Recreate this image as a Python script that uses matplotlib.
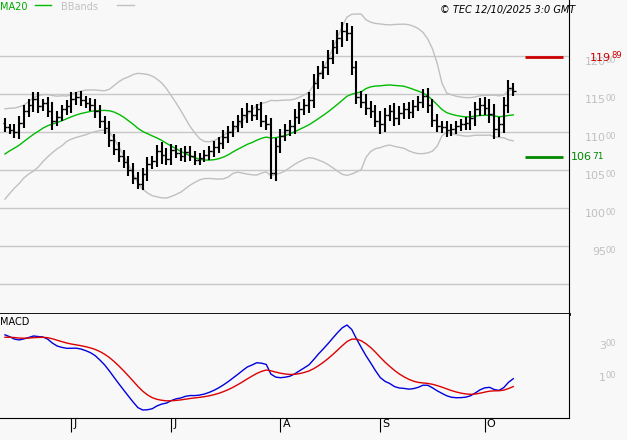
import matplotlib
matplotlib.use("Agg")
import matplotlib.pyplot as plt
import matplotlib.transforms as mt
import numpy as np
import pandas as pd

prehist = [97.0,97.5,96.8,97.8,98.5,99.0,98.6,99.8,100.5,101.2,100.8,102.0,102.8,103.5,103.0,
           104.2,105.0,105.6,105.2,106.5,107.2,107.8,108.5,108.0,109.2,109.8,110.5,111.0,110.6,111.2]
closes = [110.6,110.3,110.0,111.2,112.8,113.6,114.3,113.4,113.8,112.8,111.5,112.0,113.0,113.4,114.3,114.6,114.2,113.8,113.5,112.7,
          111.4,110.5,109.0,107.8,106.9,106.0,105.0,104.0,103.2,
          104.5,105.8,106.2,107.5,107.0,106.5,107.6,107.3,106.8,107.4,106.9,106.3,106.6,
          107.0,107.5,108.0,108.6,109.3,110.0,110.8,111.4,112.2,112.8,112.3,113.0,111.5,111.0,
          104.6,108.2,109.5,110.3,
          110.8,112.0,113.0,113.5,114.2,116.5,117.8,118.5,119.8,121.2,122.4,123.3,123.0,
          118.5,114.6,114.0,113.2,112.8,111.5,111.0,
          112.2,112.8,111.8,112.5,113.0,112.6,113.4,114.0,114.8,
          113.5,111.6,110.8,110.6,110.2,110.4,110.8,111.0,111.2,111.8,113.0,
          113.6,113.2,112.4,110.4,111.0,113.5,115.8,115.4]
spread = [0.6,0.5,0.8,0.9,0.7,0.8,1.0,0.9,0.6,0.8,1.2,0.7,0.6,0.8,0.9,0.7,0.8,0.6,0.7,0.8,
          0.9,0.7,1.0,0.8,0.9,0.7,0.8,0.9,0.7,
          0.8,0.9,0.7,0.8,1.2,0.9,0.8,0.7,0.6,0.8,0.7,0.6,0.7,
          0.6,0.7,0.8,0.7,0.9,0.8,0.7,0.8,0.9,1.0,0.8,0.7,0.9,0.8,
          0.8,1.0,0.9,0.7,
          0.8,1.0,0.9,0.8,1.0,1.1,0.9,0.8,1.0,0.9,1.0,1.2,1.0,
          1.0,0.9,0.8,1.0,0.9,0.8,1.2,
          1.0,0.8,1.0,0.9,0.8,0.9,0.8,0.7,0.9,
          1.0,0.9,0.8,0.7,0.8,0.7,0.6,0.7,0.8,0.9,1.0,
          0.9,1.0,1.2,1.3,1.0,1.1,1.0,0.6]
dates = pd.bdate_range("2025-05-13", periods=len(closes))
month_labels = ["J", "J", "A", "S", "O"]
price_levels = [95, 100, 105, 110, 115, 120]
macd_labels = ["300", "100"]
support, resistance = 106.71, 119.89

allc = pd.Series(prehist + closes)
ma = allc.rolling(20).mean()
sd = allc.rolling(20).std(ddof=0)
up, lo = ma + 2*sd, ma - 2*sd
ema12 = allc.ewm(span=12, adjust=False).mean()
ema26 = allc.ewm(span=26, adjust=False).mean()
macd = (ema12 - ema26)
sig = macd.ewm(span=9, adjust=False).mean()
n0 = len(prehist)
x = np.arange(len(closes))
opens = [prehist[-1]] + closes[:-1]
highs = [max(o, c) + s for o, c, s in zip(opens, closes, spread)]
lows = [min(o, c) - s for o, c, s in zip(opens, closes, spread)]

W, H = 627, 440
fig = plt.figure(figsize=(W/100, H/100), dpi=100, facecolor="#f8f8f8")
ax = fig.add_axes([0, 1-314/H, 569/W, 314/H], facecolor="#f8f8f8")
ax2 = fig.add_axes([0, 1-418/H, 569/W, 104/H], facecolor="#f8f8f8")
xl = (-1.05, 569/4.75 - 1.05)

for a in (ax, ax2):
    a.set_xlim(*xl)
    for s in ("left", "top"):
        a.spines[s].set_visible(False)
    a.spines["right"].set_color("black")
    a.tick_params(left=False, labelleft=False)

def px(p):
    return p / 569

ax.set_ylim(115 - (314-94)/7.6, 115 + 94/7.6)
for v in [90] + price_levels:
    ax.axhline(v, color="#c8c8c8", lw=1, zorder=0)
for v in price_levels:
    ax.text(px(606), v - 0.8, f"{v}", transform=ax.get_yaxis_transform(), color="#c0c0c0",
            fontsize=8, ha="right", va="center", clip_on=False)
    ax.text(px(606), v - 0.6, "00", transform=ax.get_yaxis_transform(), color="#c0c0c0",
            fontsize=6, ha="left", va="center", clip_on=False)
ax.spines["bottom"].set_linewidth(2)
ax.tick_params(bottom=False, labelbottom=False)

ax.plot(x, up.iloc[n0:], color="#c0c0c0", lw=1)
ax.plot(x, lo.iloc[n0:], color="#c0c0c0", lw=1)
ax.plot(x, ma.iloc[n0:], color="#00bb00", lw=1)
ax.vlines(x, lows, highs, color="black", lw=1.5)
ax.hlines(opens, x-0.5, x, color="black", lw=1)
ax.hlines(closes, x, x+0.5, color="black", lw=1)

ax.hlines([resistance], 109.5, 117.5, color="#cc0000", lw=2)
ax.hlines([support], 109.5, 117.5, color="#008800", lw=2)
ax.text(px(611), resistance - 0.1, "119", transform=ax.get_yaxis_transform(), color="#cc0000", fontsize=8,
        ha="right", va="center", clip_on=False)
ax.text(px(611), resistance + 0.2, "89", transform=ax.get_yaxis_transform(), color="#cc0000", fontsize=6,
        ha="left", va="center", clip_on=False)
ax.text(px(571), support, "106", transform=ax.get_yaxis_transform(), color="#008800", fontsize=8,
        ha="left", va="center", clip_on=False)
ax.text(px(592), support + 0.1, "71", transform=ax.get_yaxis_transform(), color="#008800", fontsize=6.5,
        ha="left", va="center", clip_on=False)

ax.text(0.0, 0.995, "MA20", transform=ax.transAxes, color="#00aa00", fontsize=7, va="top")
ax.plot([0.062, 0.09], [0.983, 0.983], transform=ax.transAxes, color="#00bb00", lw=1)
ax.text(0.108, 0.995, "BBands", transform=ax.transAxes, color="#c0c0c0", fontsize=7, va="top")
ax.plot([0.205, 0.235], [0.983, 0.983], transform=ax.transAxes, color="#c0c0c0", lw=1)
fig.text(575/W, 1-5/H, "© TEC 12/10/2025 3:0 GMT", fontsize=7, style="italic", ha="right", va="top")

mv = macd.iloc[n0:]
sv = sig.iloc[n0:]
hi = max(mv.max(), sv.max())
lo_ = min(mv.min(), sv.min())
k = (hi - lo_) / (410 - 325)
ax2.set_ylim(lo_ - (418-410)*k, hi + (325-314)*k)
ax2.axhline(lo_ - (418-387)*k, color="#c8c8c8", lw=1, zorder=0)
for lab, ypx in zip(macd_labels, [344, 376]):
    frac = (418 - ypx) / 104
    ax2.text(px(606), frac - 0.02, lab[0], transform=ax2.transAxes, color="#c0c0c0",
             fontsize=8, ha="right", va="center", clip_on=False)
    ax2.text(px(606), frac, lab[1:], transform=ax2.transAxes, color="#c0c0c0",
             fontsize=6, ha="left", va="center", clip_on=False)
ax2.plot(x, mv, color="#0000dd", lw=1)
ax2.plot(x, sv, color="#dd0000", lw=1)
ax2.text(0.0, 0.97, "MACD", transform=ax2.transAxes, fontsize=7, va="top")

mpos = [i for i in range(1, len(dates)) if dates[i].month != dates[i-1].month]
ax2.set_xticks(mpos)
ax2.set_xticklabels(month_labels, fontsize=8, ha="left")
ax2.tick_params(axis="x", length=10, direction="out", pad=-9)
off = mt.ScaledTranslation(2/100, 0, fig.dpi_scale_trans)
for lbl in ax2.get_xticklabels():
    lbl.set_transform(lbl.get_transform() + off)

fig.savefig("out.png", dpi=100, facecolor=fig.get_facecolor())
